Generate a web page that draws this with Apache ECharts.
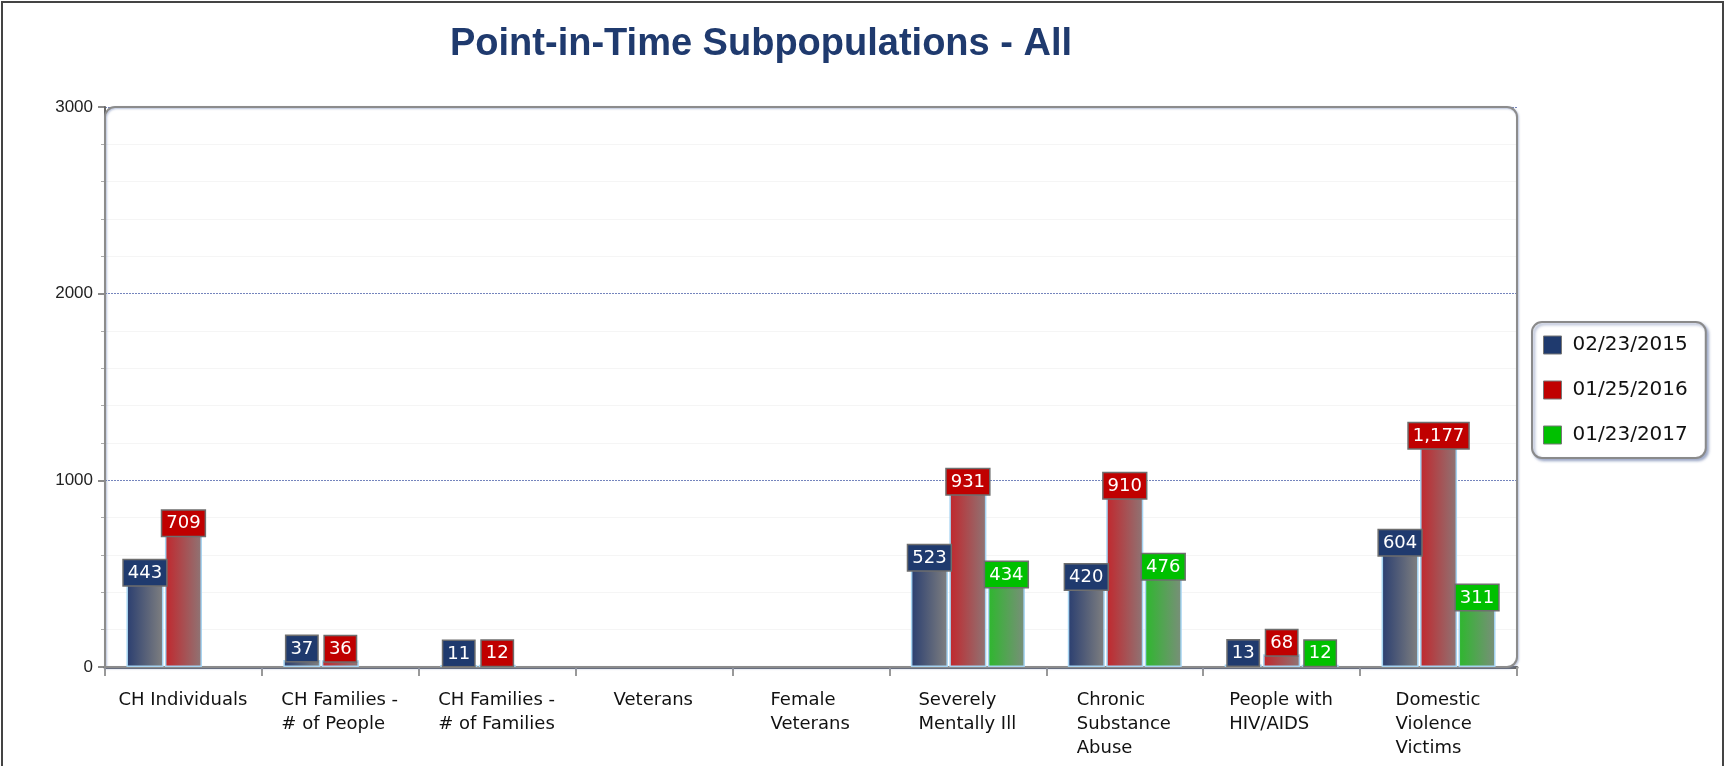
<!DOCTYPE html>
<html>
<head>
<meta charset="utf-8">
<script src="https://cdn.jsdelivr.net/npm/echarts@6/dist/echarts.min.js"></script>
<style>
  html, body { margin: 0; padding: 0; background: #fff; }
  #wrap { position: relative; width: 1725px; height: 766px; overflow: hidden; }
  #main { position: absolute; left: 0; top: 0; width: 1725px; height: 766px; }
  #frame { position: absolute; left: 1px; top: 1px; width: 1719px; height: 800px;
           border: 2px solid #444; pointer-events: none; }
</style>
</head>
<body>
<div id="wrap">
  <div id="main"></div>
  <div id="frame"></div>
</div>
<script>
// ---- data ----
const titleText = 'Point-in-Time Subpopulations - All';
const categories = [
  'CH Individuals',
  'CH Families -\n# of People',
  'CH Families -\n# of Families',
  'Veterans',
  'Female\nVeterans',
  'Severely\nMentally Ill',
  'Chronic\nSubstance\nAbuse',
  'People with\nHIV/AIDS',
  'Domestic\nViolence\nVictims'
];
const seriesNames = ['02/23/2015', '01/25/2016', '01/23/2017'];
const values2015 = [443, 37, 11, null, null, 523, 420, 13, 604];
const values2016 = [709, 36, 12, null, null, 931, 910, 68, 1177];
const values2017 = [null, null, null, null, null, 434, 476, 12, 311];
const yTicks = [0, 1000, 2000, 3000];

// ---- layout / styles ----
const W = 1725, H = 766;
const G = { left: 105, top: 107, right: 208, bottom: 99 };
const solid = ['#1F3A6E', '#C00000', '#00C000'];
const gradFrom = ['#2A3E70', '#C2272D', '#2DB82D'];
const gradTo = ['#808080', '#8E7575', '#7A8E7A'];
const catFontSize = 18;

// measure each category label so lines can be left-aligned inside a centred block
const measureCtx = document.createElement('canvas').getContext('2d');
measureCtx.font = catFontSize + 'px "DejaVu Sans"';
const catRich = {};
categories.forEach((c, i) => {
  const w = Math.max(...c.split('\n').map(s => measureCtx.measureText(s).width));
  catRich['c' + i] = {
    width: Math.ceil(w) + 1, align: 'left',
    fontFamily: 'DejaVu Sans', fontSize: catFontSize, lineHeight: 24, color: '#111'
  };
});

const chart = echarts.init(document.getElementById('main'), null, { renderer: 'canvas' });

function mkSeries(idx, data) {
  return {
    name: seriesNames[idx],
    type: 'bar',
    data: data,
    barWidth: 37,
    barGap: '4%',
    itemStyle: {
      color: new echarts.graphic.LinearGradient(0, 0, 1, 0, [
        { offset: 0, color: gradFrom[idx] },
        { offset: 1, color: gradTo[idx] }
      ]),
      borderColor: '#A6D4F2',
      borderWidth: 1.5
    },
    label: {
      show: true,
      position: 'top',
      distance: -1,
      formatter: p => echarts.format.addCommas(p.value),
      color: '#fff',
      fontFamily: 'DejaVu Sans',
      fontSize: 18,
      backgroundColor: solid[idx],
      borderColor: '#6E6E6E',
      borderWidth: 1.5,
      padding: [4, 4, 3, 4]
    },
    emphasis: { disabled: true }
  };
}

const gw = W - G.left - G.right, gh = H - G.top - G.bottom;

const option = {
  animation: false,
  backgroundColor: '#fff',
  title: {
    text: titleText,
    left: 445,
    top: 21,
    textStyle: {
      fontFamily: 'Liberation Sans',
      fontWeight: 'bold',
      fontSize: 38,
      color: '#1F3A6E'
    }
  },
  legend: {
    orient: 'vertical',
    left: 1532,
    top: 322,
    padding: [13, 18, 13, 11],
    itemGap: 25,
    itemWidth: 18,
    itemHeight: 18,
    icon: 'rect',
    backgroundColor: '#fff',
    borderColor: '#8A8A8A',
    borderWidth: 2,
    borderRadius: 10,
    shadowColor: 'rgba(90,110,160,0.55)',
    shadowBlur: 3,
    shadowOffsetX: 2,
    shadowOffsetY: 2,
    textStyle: { fontFamily: 'DejaVu Sans', fontSize: 20, color: '#111', padding: [0, 0, 0, 6] },
    data: seriesNames.map((n, i) => ({
      name: n,
      itemStyle: { color: solid[i], borderColor: '#777', borderWidth: 1 }
    }))
  },
  grid: {
    left: G.left, top: G.top, right: G.right, bottom: G.bottom,
    show: false
  },
  graphic: [{
    type: 'rect',
    silent: true,
    z: 1,
    shape: { x: G.left, y: G.top, width: gw, height: gh, r: [10, 10, 10, 0] },
    style: { fill: 'none', stroke: '#8C8C8C', lineWidth: 2,
             shadowColor: 'rgba(110,130,180,0.5)', shadowBlur: 2, shadowOffsetX: 1, shadowOffsetY: 1 }
  }],
  xAxis: {
    type: 'category',
    data: categories,
    axisLine: { lineStyle: { color: '#666', width: 3 } },
    axisTick: { show: true, length: 9, lineStyle: { color: '#999', width: 2 } },
    axisLabel: {
      margin: 21,
      interval: 0,
      formatter: (v, i) => v.split('\n').map(s => '{c' + i + '|' + s + '}').join('\n'),
      rich: catRich
    }
  },
  yAxis: {
    type: 'value',
    min: yTicks[0],
    max: yTicks[yTicks.length - 1],
    interval: 1000,
    axisLine: { show: true, lineStyle: { color: '#666', width: 2 } },
    axisTick: { show: true, length: 7, lineStyle: { color: '#666', width: 1.5 } },
    minorTick: { show: true, splitNumber: 5, length: 4, lineStyle: { color: '#aaa' } },
    axisLabel: {
      margin: 12,
      formatter: v => String(v),
      fontFamily: 'Liberation Sans',
      fontSize: 17,
      color: '#222'
    },
    splitLine: { show: true, lineStyle: { color: '#7585BD', type: [2, 1], width: 1.2 } },
    minorSplitLine: { show: true, lineStyle: { color: '#F5F5F5', width: 1 } }
  },
  series: [
    mkSeries(0, values2015),
    mkSeries(1, values2016),
    mkSeries(2, values2017)
  ]
};

chart.setOption(option);
</script>
</body>
</html>
